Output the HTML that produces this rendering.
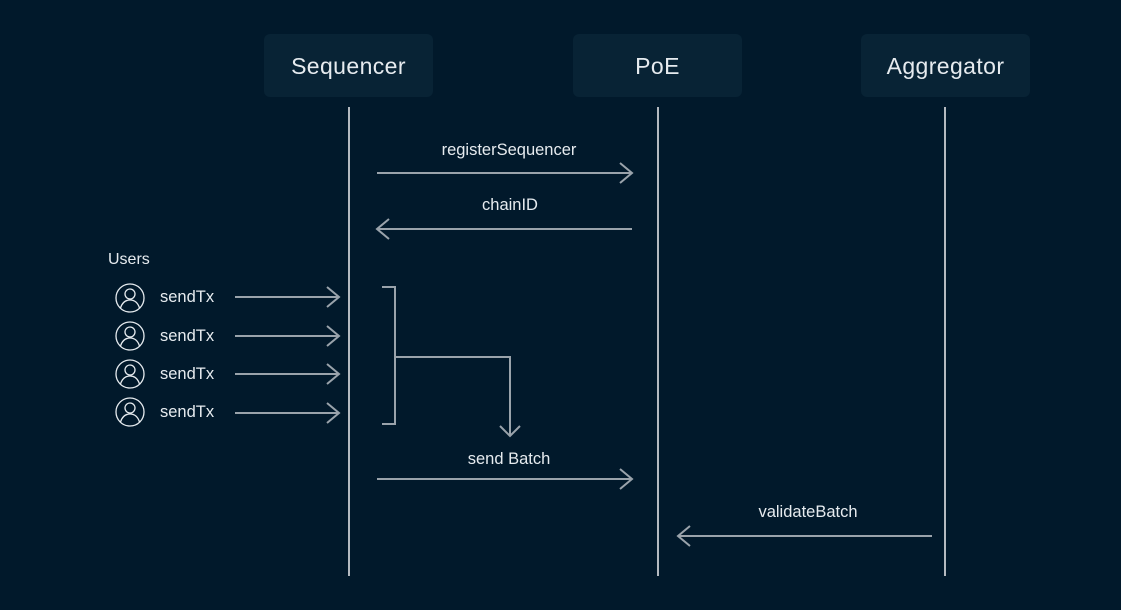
<!DOCTYPE html>
<html><head><meta charset="utf-8">
<style>
html,body{margin:0;padding:0;background:#01192b;}
svg{display:block}
text{font-family:"Liberation Sans",sans-serif;fill:#e6ebef}
</style></head>
<body>
<svg width="1121" height="610" viewBox="0 0 1121 610" xmlns="http://www.w3.org/2000/svg">
<rect width="1121" height="610" fill="#01192b"/>
<g fill="#082335">
<rect x="264" y="34" width="169" height="63" rx="6"/>
<rect x="573" y="34" width="169" height="63" rx="6"/>
<rect x="861" y="34" width="169" height="63" rx="6"/>
</g>
<g font-size="23" text-anchor="middle" letter-spacing="0.4">
<text x="348.5" y="74">Sequencer</text>
<text x="657.5" y="74">PoE</text>
<text x="945.5" y="74">Aggregator</text>
</g>
<g stroke="#b4bac0" stroke-width="2">
<line x1="349" y1="107" x2="349" y2="576"/>
<line x1="658" y1="107" x2="658" y2="576"/>
<line x1="945" y1="107" x2="945" y2="576"/>
</g>
<g stroke="#9aa3ab" stroke-width="2" fill="none">
<line x1="377" y1="173" x2="632" y2="173"/><polyline points="620,163 632,173 620,183"/>
<line x1="377" y1="229" x2="632" y2="229"/><polyline points="389,219 377,229 389,239"/>
<line x1="377" y1="479" x2="632" y2="479"/><polyline points="620,469 632,479 620,489"/>
<line x1="678" y1="536" x2="932" y2="536"/><polyline points="690,526 678,536 690,546"/>
<line x1="235" y1="297" x2="339" y2="297"/><polyline points="327,287 339,297 327,307"/>
<line x1="235" y1="336" x2="339" y2="336"/><polyline points="327,326 339,336 327,346"/>
<line x1="235" y1="374" x2="339" y2="374"/><polyline points="327,364 339,374 327,384"/>
<line x1="235" y1="413" x2="339" y2="413"/><polyline points="327,403 339,413 327,423"/>
<polyline points="382,287 395,287 395,424 382,424"/>
<polyline points="395,357 510,357 510,436"/>
<polyline points="500,426 510,436 520,426"/>
</g>
<g font-size="16.5" text-anchor="middle">
<text x="509" y="155">registerSequencer</text>
<text x="510" y="210">chainID</text>
<text x="509" y="464">send Batch</text>
<text x="808" y="517">validateBatch</text>
</g>
<g font-size="16.5">
<text x="108" y="264" font-size="16">Users</text>
<text x="160" y="302">sendTx</text>
<text x="160" y="341">sendTx</text>
<text x="160" y="379">sendTx</text>
<text x="160" y="417">sendTx</text>
</g>
<g stroke="#e6ebef" stroke-width="1.3" fill="none">
<g transform="translate(130,298)"><circle r="14"/><circle cy="-4" r="5"/><path d="M-9.5,10 Q-7,2 0,2 Q7,2 9.5,10"/></g>
<g transform="translate(130,336)"><circle r="14"/><circle cy="-4" r="5"/><path d="M-9.5,10 Q-7,2 0,2 Q7,2 9.5,10"/></g>
<g transform="translate(130,374)"><circle r="14"/><circle cy="-4" r="5"/><path d="M-9.5,10 Q-7,2 0,2 Q7,2 9.5,10"/></g>
<g transform="translate(130,412)"><circle r="14"/><circle cy="-4" r="5"/><path d="M-9.5,10 Q-7,2 0,2 Q7,2 9.5,10"/></g>
</g>
</svg>
</body></html>
